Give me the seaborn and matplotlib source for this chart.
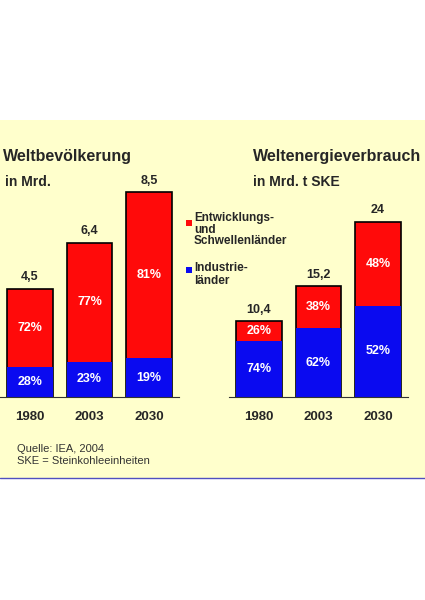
import matplotlib
matplotlib.use("Agg")
import matplotlib.pyplot as plt
import seaborn as sns
from matplotlib.patches import Rectangle
from matplotlib.lines import Line2D

years = ["1980", "2003", "2030"]
pop_total = [4.5, 6.4, 8.5]
pop_total_labels = ["4,5", "6,4", "8,5"]
pop_ind_pct = [28, 23, 19]
en_total = [10.4, 15.2, 24]
en_total_labels = ["10,4", "15,2", "24"]
en_ind_pct = [74, 62, 52]

RED = "#FF0A0A"
BLUE = "#0A0AF0"
BG = "#FFFFCC"

sns.set_style("white")
plt.rcParams['font.family'] = ['Liberation Sans', 'DejaVu Sans']

W, H = 425, 600
fig = plt.figure(figsize=(W/100, H/100), dpi=100)
fig.patches.append(Rectangle((0, 1-478/H), 1, (478-120)/H, transform=fig.transFigure,
                             facecolor=BG, edgecolor="none", zorder=-10))
fig.add_artist(Line2D([0, 1], [1-478/H, 1-478/H], color="#5050C0", lw=1))

def panel(left_px, ymax, totals, tlabels, ind_pct):
    ax = fig.add_axes([left_px/W, 1-397/H, 178.5/W, 220/H])
    ax.set_facecolor("none")
    ind = [t*p/100 for t, p in zip(totals, ind_pct)]
    sns.barplot(x=years, y=totals, color=RED, edgecolor="black", linewidth=1.2,
                width=0.77, saturation=1, ax=ax)
    sns.barplot(x=years, y=ind, color=BLUE, edgecolor="none", linewidth=0,
                width=0.77, saturation=1, ax=ax)
    ax.set_xlim(-0.5, 2.5)
    ax.set_ylim(0, ymax)
    for i, (t, tl, b, p) in enumerate(zip(totals, tlabels, ind, ind_pct)):
        ax.text(i, t + ymax*0.025, tl, ha="center", va="bottom", fontsize=9, fontweight="bold")
        ax.text(i, b/2, f"{p}%", ha="center", va="center", color="white", fontsize=9, fontweight="bold")
        ax.text(i, b + (t-b)/2, f"{100-p}%", ha="center", va="center", color="white", fontsize=9, fontweight="bold")
    ax.set_yticks([])
    ax.set_xlabel(""); ax.set_ylabel("")
    for s in ["top", "right", "left"]:
        ax.spines[s].set_visible(False)
    ax.spines["bottom"].set_color("#333333")
    ax.tick_params(axis="x", length=0, pad=10, labelsize=9.5)
    for lab in ax.get_xticklabels():
        lab.set_fontweight("bold")

panel(0.25, 220/24.1, pop_total, pop_total_labels, pop_ind_pct)
panel(229.25, 220/7.3, en_total, en_total_labels, en_ind_pct)

def ft(x, y, s, **kw):
    fig.text(x/W, 1-y/H, s, **kw)

ft(3, 157, "Weltbevölkerung", fontsize=11.5, fontweight="bold", va="center")
ft(5, 182, "in Mrd.", fontsize=10, fontweight="bold", va="center")
ft(253, 157, "Weltenergieverbrauch", fontsize=11.5, fontweight="bold", va="center")
ft(253, 182, "in Mrd. t SKE", fontsize=10, fontweight="bold", va="center")
fig.patches.append(Rectangle((186/W, 1-226/H), 6/W, 6/H, transform=fig.transFigure, facecolor=RED, edgecolor="none"))
fig.patches.append(Rectangle((186/W, 1-273/H), 6/W, 6/H, transform=fig.transFigure, facecolor=BLUE, edgecolor="none"))
ft(194, 212, "Entwicklungs-\nund\nSchwellenländer", fontsize=8.5, fontweight="bold", va="top", linespacing=0.95)
ft(194, 262, "Industrie-\nländer", fontsize=8.5, fontweight="bold", va="top", linespacing=1.1)
ft(17, 455, "Quelle: IEA, 2004\nSKE = Steinkohleeinheiten", fontsize=8, va="center", color="#333333", linespacing=1.2)

fig.savefig("out.png", dpi=100)
